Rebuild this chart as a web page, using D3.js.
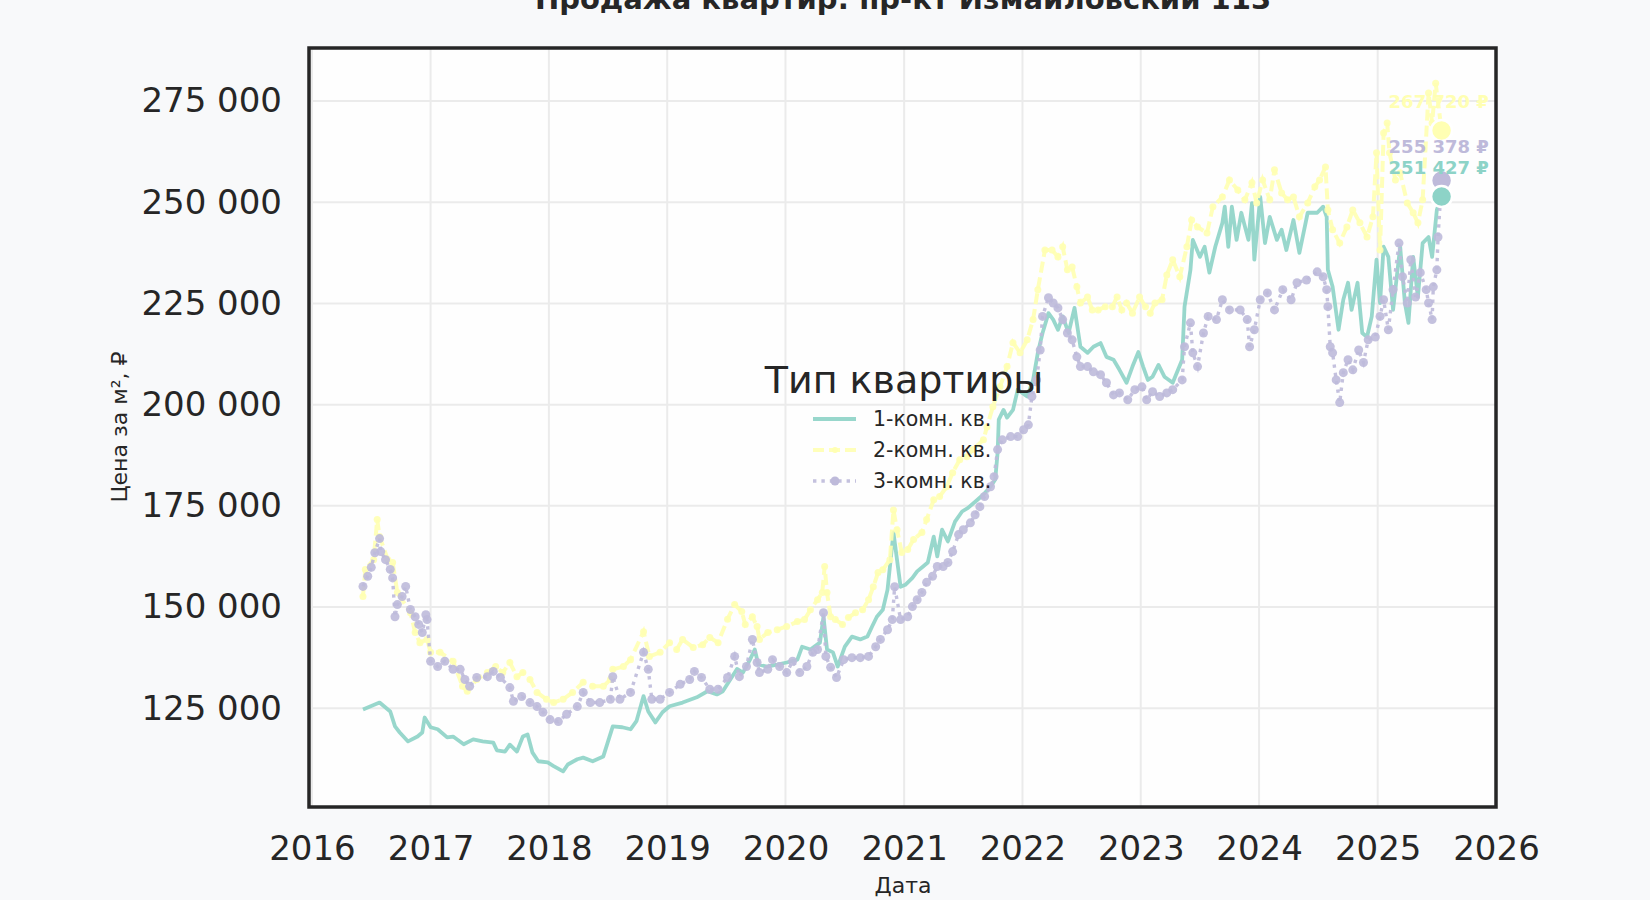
<!DOCTYPE html>
<html>
<head>
<meta charset="utf-8">
<script src="https://cdn.jsdelivr.net/npm/d3@7"></script>
<style>
  body { margin: 0; background: #f8f9fa; }
  svg { display: block; font-family: "DejaVu Sans", sans-serif; }
</style>
</head>
<body>
<svg id="chart" width="1650" height="900"></svg>
<script>
// values: [decimal year, price per m2]
var oneRoom = [
  [2016.43,124700],[2016.57,126400],[2016.66,124200],[2016.70,120500],[2016.74,119000],[2016.81,116800],
  [2016.89,118000],[2016.93,119000],[2016.95,122700],[2017.00,120300],[2017.06,119800],[2017.14,117800],
  [2017.19,118000],[2017.28,116100],[2017.36,117300],[2017.44,116800],[2017.53,116500],[2017.56,114600],
  [2017.63,114300],[2017.67,116000],[2017.73,114300],[2017.78,118000],[2017.82,118500],[2017.86,114100],
  [2017.91,111900],[2017.99,111600],[2018.04,110700],[2018.12,109400],[2018.16,111100],[2018.24,112400],
  [2018.29,112800],[2018.37,111900],[2018.46,113100],[2018.50,116800],[2018.54,120500],[2018.62,120300],
  [2018.69,119800],[2018.74,121800],[2018.80,128000],[2018.84,124200],[2018.90,121500],[2018.96,124000],
  [2019.02,125500],[2019.13,126400],[2019.25,127700],[2019.34,129200],[2019.42,128400],[2019.47,129200],
  [2019.59,134700],[2019.64,133800],[2019.70,137000],[2019.74,139500],[2019.77,135800],[2019.84,135300],
  [2019.93,135800],[2020.01,136300],[2020.10,137000],[2020.14,140200],[2020.21,139500],[2020.29,141200],
  [2020.32,147600],[2020.35,139500],[2020.40,138800],[2020.44,135300],[2020.50,140200],[2020.56,142700],
  [2020.63,142000],[2020.69,142700],[2020.73,145200],[2020.77,147600],[2020.82,149300],[2020.86,154300],
  [2020.91,168400],[2020.94,161700],[2020.97,155000],[2021.01,155500],[2021.07,157200],[2021.11,158800],
  [2021.16,160000],[2021.20,161000],[2021.25,167400],[2021.28,162500],[2021.32,169100],[2021.37,166200],
  [2021.43,171100],[2021.49,173600],[2021.54,174500],[2021.62,176500],[2021.67,177800],[2021.73,179700],
  [2021.77,181500],[2021.79,188100],[2021.80,196300],[2021.84,198700],[2021.87,196800],[2021.92,198700],
  [2021.96,203700],[2022.04,202000],[2022.09,206100],[2022.13,212800],[2022.17,217700],[2022.22,222600],
  [2022.26,221000],[2022.30,218500],[2022.34,221800],[2022.39,217700],[2022.44,223900],[2022.49,214300],
  [2022.55,212800],[2022.60,214300],[2022.66,215200],[2022.71,211800],[2022.77,211100],[2022.82,208600],
  [2022.88,205400],[2022.93,209400],[2022.98,213000],[2023.02,209400],[2023.06,206100],[2023.10,206900],
  [2023.15,209800],[2023.20,206900],[2023.27,205400],[2023.35,211100],[2023.37,224200],[2023.42,233300],
  [2023.44,240700],[2023.50,236500],[2023.54,239000],[2023.58,232600],[2023.63,239000],[2023.69,244900],
  [2023.71,248900],[2023.74,239000],[2023.77,248900],[2023.81,240700],[2023.85,247400],[2023.91,240700],
  [2023.94,249800],[2023.96,235800],[2024.01,251300],[2024.05,239900],[2024.09,246400],[2024.15,240700],
  [2024.19,243200],[2024.23,238200],[2024.29,245600],[2024.34,237500],[2024.41,247400],[2024.49,247400],
  [2024.54,248900],[2024.57,246400],[2024.58,233300],[2024.62,229100],[2024.67,218500],[2024.71,225900],
  [2024.75,230100],[2024.78,223400],[2024.83,230100],[2024.87,217700],[2024.91,216700],[2024.95,221800],
  [2024.99,235800],[2025.02,225100],[2025.05,239000],[2025.09,236500],[2025.13,223400],[2025.19,239000],
  [2025.23,225100],[2025.26,220200],[2025.30,236500],[2025.34,226600],[2025.38,239900],[2025.43,241400],
  [2025.46,236500],[2025.50,248100],[2025.54,251427]
];

var twoRoom = [
  [2016.43,152600],[2016.45,159300],[2016.52,161700],[2016.55,171600],[2016.57,167400],[2016.64,161700],
  [2016.68,161000],[2016.72,153600],[2016.83,148600],[2016.87,143700],[2016.91,141200],[2016.97,142000],
  [2017.00,138800],[2017.08,138800],[2017.19,136600],[2017.27,130400],[2017.31,129200],[2017.39,132100],
  [2017.48,133800],[2017.55,135300],[2017.61,133800],[2017.67,136300],[2017.73,132800],[2017.78,133800],
  [2017.84,132100],[2017.90,128900],[2017.98,127200],[2018.04,126400],[2018.12,127200],[2018.20,128900],
  [2018.29,131400],[2018.37,130400],[2018.46,130400],[2018.52,132100],[2018.54,134600],[2018.63,135300],
  [2018.69,137000],[2018.80,143900],[2018.85,137800],[2018.94,138800],[2019.02,141200],[2019.08,139500],
  [2019.13,142000],[2019.22,140000],[2019.30,140700],[2019.36,142500],[2019.43,141200],[2019.51,147000],
  [2019.57,150600],[2019.63,148900],[2019.66,145700],[2019.72,147600],[2019.76,145200],[2019.78,142000],
  [2019.85,143700],[2019.93,144400],[2020.01,145200],[2020.10,146400],[2020.16,146900],[2020.21,149300],
  [2020.27,151800],[2020.31,153600],[2020.33,160000],[2020.35,153600],[2020.38,147600],[2020.42,146900],
  [2020.48,145700],[2020.53,147400],[2020.59,148600],[2020.65,149300],[2020.70,151800],[2020.74,155000],
  [2020.78,158500],[2020.82,159200],[2020.88,161700],[2020.91,174000],[2020.94,169100],[2020.98,163500],
  [2021.03,164200],[2021.08,166700],[2021.15,168400],[2021.19,171600],[2021.25,176500],[2021.30,177300],
  [2021.36,179700],[2021.41,183200],[2021.47,186400],[2021.53,187100],[2021.58,188900],[2021.67,191300],
  [2021.70,194500],[2021.75,199500],[2021.81,204400],[2021.87,209400],[2021.92,215300],[2021.98,212800],
  [2022.04,216000],[2022.09,221000],[2022.13,228400],[2022.19,238200],[2022.25,238200],[2022.30,236500],
  [2022.34,239000],[2022.38,233300],[2022.42,234000],[2022.46,229100],[2022.49,225100],[2022.55,226600],
  [2022.59,223400],[2022.64,223400],[2022.70,224200],[2022.76,224200],[2022.80,226600],[2022.84,223400],
  [2022.88,225100],[2022.93,222600],[2022.99,226600],[2023.04,224200],[2023.08,222600],[2023.12,225100],
  [2023.18,225900],[2023.22,232000],[2023.27,235800],[2023.33,231600],[2023.39,239000],[2023.43,245600],
  [2023.48,243900],[2023.56,242400],[2023.61,248900],[2023.69,251300],[2023.75,255500],[2023.82,253000],
  [2023.88,250600],[2023.94,254800],[2023.98,249800],[2024.03,255500],[2024.09,250600],[2024.13,258000],
  [2024.19,252300],[2024.24,250600],[2024.29,251300],[2024.34,246400],[2024.41,249800],[2024.47,253800],
  [2024.51,255500],[2024.56,258700],[2024.58,248100],[2024.62,243200],[2024.68,239900],[2024.74,243900],
  [2024.79,248100],[2024.85,244900],[2024.91,241400],[2024.96,246400],[2024.99,262200],[2025.02,238200],
  [2025.05,267100],[2025.08,269600],[2025.10,262200],[2025.15,255500],[2025.19,257200],[2025.25,249800],
  [2025.30,247400],[2025.34,244900],[2025.38,250600],[2025.43,277000],[2025.46,269600],[2025.49,279400],
  [2025.54,267720]
];

var threeRoom = [
  [2016.43,155100],[2016.47,157600],[2016.50,159800],[2016.53,163400],[2016.57,166900],[2016.58,163700],
  [2016.62,161700],[2016.66,159300],[2016.68,157200],[2016.70,147600],[2016.72,150600],[2016.76,152600],
  [2016.79,155100],[2016.83,149400],[2016.87,147600],[2016.90,145700],[2016.93,143700],[2016.96,148100],
  [2016.97,146900],[2017.00,136600],[2017.06,135300],[2017.12,136600],[2017.19,134600],[2017.25,134600],
  [2017.29,132100],[2017.33,130400],[2017.39,132600],[2017.48,132800],[2017.53,134100],[2017.59,132600],
  [2017.67,130100],[2017.70,126700],[2017.77,127900],[2017.84,126400],[2017.90,125400],[2017.95,124000],
  [2018.01,122200],[2018.08,121700],[2018.15,123500],[2018.24,125400],[2018.29,128900],[2018.35,126400],
  [2018.43,126400],[2018.52,127200],[2018.54,132800],[2018.60,127200],[2018.69,128900],[2018.80,138800],
  [2018.84,134600],[2018.87,127200],[2018.94,127200],[2019.02,128900],[2019.11,130900],[2019.19,132100],
  [2019.23,134100],[2019.29,132600],[2019.36,129700],[2019.43,129700],[2019.51,132600],[2019.57,137800],
  [2019.61,132800],[2019.67,135300],[2019.72,142000],[2019.76,136300],[2019.78,133800],[2019.85,134600],
  [2019.89,137000],[2019.95,135300],[2020.01,133800],[2020.06,136600],[2020.12,133800],[2020.18,135300],
  [2020.23,138800],[2020.27,139500],[2020.32,148600],[2020.34,137800],[2020.38,135100],[2020.43,132600],
  [2020.49,137000],[2020.56,137500],[2020.63,137500],[2020.70,137800],[2020.76,140200],[2020.80,142000],
  [2020.86,144400],[2020.90,146900],[2020.92,155000],[2020.97,146900],[2021.03,147600],[2021.07,150100],
  [2021.11,151800],[2021.15,153600],[2021.19,156100],[2021.24,157600],[2021.28,160000],[2021.33,160000],
  [2021.37,161000],[2021.41,163700],[2021.46,167900],[2021.50,169100],[2021.56,170800],[2021.60,172800],
  [2021.64,174800],[2021.68,177300],[2021.73,179700],[2021.76,182200],[2021.79,188900],[2021.83,191300],
  [2021.90,192100],[2021.96,192100],[2022.01,193800],[2022.05,195000],[2022.08,202000],[2022.12,206100],
  [2022.15,213500],[2022.17,221800],[2022.22,226400],[2022.26,225100],[2022.30,223900],[2022.34,221000],
  [2022.38,217700],[2022.42,216000],[2022.46,211800],[2022.49,209400],[2022.55,209400],[2022.60,208100],
  [2022.66,207400],[2022.71,205400],[2022.77,202400],[2022.82,202900],[2022.89,201200],[2022.95,203700],
  [2023.01,204400],[2023.05,201200],[2023.10,203200],[2023.16,202000],[2023.22,202900],[2023.27,203700],
  [2023.35,206100],[2023.37,214300],[2023.42,220200],[2023.44,212800],[2023.48,209400],[2023.53,217700],
  [2023.57,221800],[2023.64,221000],[2023.69,225900],[2023.75,223400],[2023.84,223400],[2023.90,221000],
  [2023.92,214300],[2023.96,218500],[2024.01,225900],[2024.07,227600],[2024.13,223400],[2024.20,228400],
  [2024.27,225900],[2024.32,230100],[2024.40,230800],[2024.49,232800],[2024.54,231600],[2024.57,228400],
  [2024.58,224200],[2024.60,214300],[2024.62,212800],[2024.65,206100],[2024.68,200500],[2024.71,207900],
  [2024.75,211100],[2024.79,208600],[2024.84,213500],[2024.88,210400],[2024.92,216000],[2024.98,216700],
  [2025.02,221800],[2025.05,225900],[2025.09,218500],[2025.13,228400],[2025.18,239900],[2025.21,231600],
  [2025.25,225100],[2025.28,235800],[2025.32,226600],[2025.36,232600],[2025.41,228400],[2025.43,225100],
  [2025.46,221000],[2025.47,229100],[2025.50,233300],[2025.51,241400],[2025.54,255378]
];

var seriesNames = ["1-комн. кв.", "2-комн. кв.", "3-комн. кв."]
var seriesColors = ["#8dd3c7", "#ffffb3", "#bebada"]
var yTicks = [125000, 150000, 175000, 200000, 225000, 250000, 275000]
var xTicks = [2016, 2017, 2018, 2019, 2020, 2021, 2022, 2023, 2024, 2025, 2026]

function toDate(t){
  var yr = Math.floor(t)
  var start = new Date(yr, 0, 1), end = new Date(yr + 1, 0, 1)
  return new Date(+start + (t - yr) * (end - start))
}

var svg = d3.select("#chart")
var box = {left: 309, right: 1496, top: 48, bottom: 807}

svg.append("rect").attr("width", 1650).attr("height", 900).attr("fill", "#f8f9fa")
svg.append("rect")
    .attr("x", box.left).attr("y", box.top)
    .attr("width", box.right - box.left).attr("height", box.bottom - box.top)
    .attr("fill", "#fefefe")

var x = d3.scaleTime()
    .domain([toDate(2015.975), new Date(2026, 0, 1)])
    .range([box.left, box.right])
var y = d3.scaleLinear()
    .domain([100600, 288100])
    .range([box.bottom, box.top])

// grid
svg.append("g").selectAll("line")
    .data(xTicks)
    .enter().append("line")
    .attr("x1", function(d){ return x(new Date(d, 0, 1)) })
    .attr("x2", function(d){ return x(new Date(d, 0, 1)) })
    .attr("y1", box.top).attr("y2", box.bottom)
    .attr("stroke", "#ebebeb").attr("stroke-width", 2)
svg.append("g").selectAll("line")
    .data(yTicks)
    .enter().append("line")
    .attr("x1", box.left).attr("x2", box.right)
    .attr("y1", function(d){ return y(d) })
    .attr("y2", function(d){ return y(d) })
    .attr("stroke", "#ebebeb").attr("stroke-width", 2)

// axes
var fmt = function(d){ return d3.format(",")(d).replace(/,/g, " ") }
var yAxis = svg.append("g")
    .attr("transform", "translate(" + box.left + ",0)")
    .call(d3.axisLeft(y).tickValues(yTicks).tickSize(0).tickPadding(27).tickFormat(fmt))
yAxis.select(".domain").remove()
yAxis.selectAll("text").attr("font-size", 34).attr("fill", "#262626").attr("font-family", "DejaVu Sans")

var xAxis = svg.append("g")
    .attr("transform", "translate(0," + box.bottom + ")")
    .call(d3.axisBottom(x).tickValues(xTicks.map(function(d){ return new Date(d, 0, 1) }))
      .tickSize(0).tickPadding(29).tickFormat(d3.timeFormat("%Y")))
xAxis.select(".domain").remove()
xAxis.selectAll("text").attr("font-size", 34).attr("fill", "#262626").attr("font-family", "DejaVu Sans")

// axis titles
svg.append("text")
    .attr("x", 903).attr("y", 893)
    .attr("text-anchor", "middle")
    .attr("font-size", 22).attr("fill", "#262626")
    .text("Дата")
svg.append("text")
    .attr("transform", "translate(127,427) rotate(-90)")
    .attr("text-anchor", "middle")
    .attr("font-size", 22).attr("fill", "#262626")
    .text("Цена за м², ₽")

// title (partly above the page)
svg.append("text")
    .attr("x", 903).attr("y", 9)
    .attr("text-anchor", "middle")
    .attr("font-size", 29).attr("font-weight", "bold").attr("fill", "#262626")
    .text("Продажа квартир: пр-кт Измайловский 113")

svg.append("clipPath").attr("id", "plotclip")
  .append("rect").attr("x", box.left).attr("y", box.top)
  .attr("width", box.right - box.left).attr("height", box.bottom - box.top)

var plot = svg.append("g").attr("clip-path", "url(#plotclip)")
var line = d3.line()
    .x(function(d){ return x(toDate(d[0])) })
    .y(function(d){ return y(d[1]) })

// 1-room: solid
plot.append("path")
    .datum(oneRoom)
    .attr("d", line)
    .attr("fill", "none")
    .attr("stroke", seriesColors[0]).attr("stroke-opacity", 0.9)
    .attr("stroke-width", 3.8).attr("stroke-linejoin", "round")

// 2-room: dashed with small markers
plot.append("path")
    .datum(twoRoom)
    .attr("d", line)
    .attr("fill", "none")
    .attr("stroke", seriesColors[1]).attr("stroke-opacity", 0.9)
    .attr("stroke-width", 4).attr("stroke-dasharray", "11,5")
plot.append("g").selectAll("circle")
    .data(twoRoom)
    .enter().append("circle")
    .attr("cx", function(d){ return x(toDate(d[0])) })
    .attr("cy", function(d){ return y(d[1]) })
    .attr("r", 3.5)
    .attr("fill", seriesColors[1]).attr("fill-opacity", 0.9)

// 3-room: dotted with circle markers
plot.append("path")
    .datum(threeRoom)
    .attr("d", line)
    .attr("fill", "none")
    .attr("stroke", seriesColors[2]).attr("stroke-opacity", 0.9)
    .attr("stroke-width", 3.4).attr("stroke-dasharray", "3.4,5")
plot.append("g").selectAll("circle")
    .data(threeRoom)
    .enter().append("circle")
    .attr("cx", function(d){ return x(toDate(d[0])) })
    .attr("cy", function(d){ return y(d[1]) })
    .attr("r", 4.5)
    .attr("fill", seriesColors[2]).attr("fill-opacity", 0.9)

// last values: big dots and labels
var lasts = [
  {name: seriesNames[1], color: seriesColors[1], d: twoRoom[twoRoom.length - 1]},
  {name: seriesNames[2], color: seriesColors[2], d: threeRoom[threeRoom.length - 1]},
  {name: seriesNames[0], color: seriesColors[0], d: oneRoom[oneRoom.length - 1]}
]
lasts.forEach(function(s){ s.ly = y(s.d[1]) - 29 })
var byValue = lasts.slice().sort(function(a, b){ return a.d[1] - b.d[1] })
for (var i = 1; i < byValue.length; i++) {
  if (byValue[i].ly > byValue[i - 1].ly - 21) byValue[i].ly = byValue[i - 1].ly - 21
}

svg.append("g").selectAll("circle")
    .data(lasts)
    .enter().append("circle")
    .attr("cx", function(s){ return x(toDate(s.d[0])) })
    .attr("cy", function(s){ return y(s.d[1]) })
    .attr("r", 10.5)
    .attr("fill", function(s){ return s.color })
    .attr("stroke", "#ffffff").attr("stroke-width", 2.5)

svg.append("g").selectAll("text")
    .data(lasts)
    .enter().append("text")
    .attr("x", function(s){ return x(toDate(s.d[0])) - 53 })
    .attr("y", function(s){ return s.ly })
    .attr("dy", "0.36em")
    .attr("font-size", 18).attr("font-weight", "bold")
    .attr("fill", function(s){ return s.color })
    .text(function(s){ return fmt(s.d[1]) + " ₽" })

// frame
svg.append("rect")
    .attr("x", box.left).attr("y", box.top)
    .attr("width", box.right - box.left).attr("height", box.bottom - box.top)
    .attr("fill", "none").attr("stroke", "#262626").attr("stroke-width", 3.5)

// legend
var legend = svg.append("g")
legend.append("text")
    .attr("x", 904).attr("y", 393)
    .attr("text-anchor", "middle")
    .attr("font-size", 38).attr("fill", "#262626")
    .text("Тип квартиры")

var item = legend.selectAll(".item")
    .data(seriesNames)
    .enter().append("g")
    .attr("class", "item")
    .attr("transform", function(d, i){ return "translate(0," + (419 + i * 31) + ")" })
item.append("line")
    .attr("x1", 813).attr("x2", 856)
    .attr("stroke", function(d, i){ return seriesColors[i] })
    .attr("stroke-opacity", 0.9)
    .attr("stroke-width", function(d, i){ return i === 2 ? 3.4 : 3.8 })
    .attr("stroke-dasharray", function(d, i){ return i === 0 ? null : (i === 1 ? "11,5" : "3.4,5") })
item.filter(function(d, i){ return i > 0 }).append("circle")
    .attr("cx", 835)
    .attr("r", function(d, i){ return i === 0 ? 3 : 4.5 })
    .attr("fill", function(d){ return seriesColors[seriesNames.indexOf(d)] })
item.append("text")
    .attr("x", 873).attr("y", 7)
    .attr("font-size", 20.5).attr("fill", "#262626")
    .text(function(d){ return d })
</script>
</body>
</html>
